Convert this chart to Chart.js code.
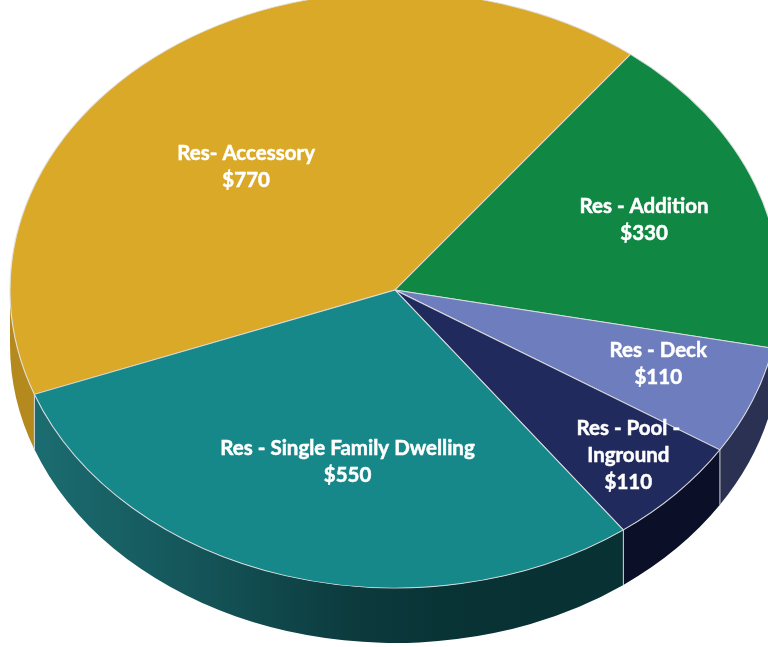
<!DOCTYPE html>
<html><head><meta charset="utf-8">
<script src="https://cdn.jsdelivr.net/npm/chart.js@4"></script>
<style>html,body{margin:0;padding:0;background:#fff;overflow:hidden}canvas{display:block}</style>
</head><body>
<canvas id="c" width="768" height="647"></canvas>
<script>
// ---- data ----
const categories = ['Res- Accessory', 'Res - Addition', 'Res - Deck', 'Res - Pool - Inground', 'Res - Single Family Dwelling'];
const values = [770, 330, 110, 110, 550];
const labelLines = [['Res- Accessory'], ['Res - Addition'], ['Res - Deck'], ['Res - Pool -', 'Inground'], ['Res - Single Family Dwelling']];
const valueLabels = values.map(v => '$' + v);

// ---- styles / layout ----
const topColors = ['#DBA928', '#118744', '#6E7DBD', '#212A5C', '#17888A'];
const sideColors = ['#B48A1F', '#0B5C2E', '#2B3152', '#0B0F27', 'gradient'];
const labelLayout = [{r: 0.565, da: -6.8}, {r: 0.688, da: 0.6}, {r: 0.727, da: -2.0}, {r: 0.821, da: -0.6}, {r: 0.59, da: -4.5}];
const CX = 395, CY = 290, RX = 385, RY = 298, DEPTH = 55, ROT = 249.5;
const EDGE = 'rgba(225,225,225,0.9)';

const TWO_PI = Math.PI * 2;

const pie3d = {
  id: 'pie3d',
  beforeDatasetsDraw(chart) {
    const ctx = chart.ctx;
    const arcs = chart.getDatasetMeta(0).data;
    ctx.save();
    arcs.forEach((arc, i) => {
      const s = arc.startAngle, e = arc.endAngle;
      for (let k = -1; k <= 2; k++) {
        const lo = Math.max(s, k * TWO_PI), hi = Math.min(e, k * TWO_PI + Math.PI);
        if (hi <= lo) continue;
        ctx.beginPath();
        ctx.ellipse(CX, CY, RX, RY, 0, lo, hi, false);
        ctx.ellipse(CX, CY + DEPTH, RX, RY, 0, hi, lo, true);
        ctx.closePath();
        if (sideColors[i] === 'gradient') {
          const g = ctx.createLinearGradient(CX - RX, 0, CX + RX, 0);
          g.addColorStop(0, '#1C7074');
          g.addColorStop(0.25, '#145458');
          g.addColorStop(0.45, '#0C3A3D');
          g.addColorStop(0.6, '#083234');
          g.addColorStop(1, '#073031');
          ctx.fillStyle = g;
        } else {
          ctx.fillStyle = sideColors[i];
        }
        ctx.fill();
      }
    });
    // vertical edges at slice boundaries on the front
    ctx.strokeStyle = EDGE;
    ctx.lineWidth = 1;
    arcs.forEach(arc => {
      const t = arc.startAngle;
      if (Math.sin(t) > 0) {
        const x = CX + RX * Math.cos(t), y = CY + RY * Math.sin(t);
        ctx.beginPath();
        ctx.moveTo(x, y);
        ctx.lineTo(x, y + DEPTH);
        ctx.stroke();
      }
    });
    ctx.restore();
    // transform so the library's circular pie becomes the tilted top face
    const a = arcs[0];
    ctx.save();
    ctx.translate(CX, CY);
    ctx.scale(RX / a.outerRadius, RY / a.outerRadius);
    ctx.translate(-a.x, -a.y);
  },
  afterDatasetsDraw(chart) {
    const ctx = chart.ctx;
    ctx.restore();
    const arcs = chart.getDatasetMeta(0).data;
    ctx.save();
    ctx.fillStyle = '#FFFFFF';
    ctx.strokeStyle = '#FFFFFF';
    ctx.lineWidth = 0.5;
    ctx.font = 'bold 20.5px Lato';
    ctx.textAlign = 'center';
    ctx.textBaseline = 'middle';
    const lh = 27;
    arcs.forEach((arc, i) => {
      const L = labelLayout[i];
      const mid = (arc.startAngle + arc.endAngle) / 2 + L.da * Math.PI / 180;
      const x = CX + RX * L.r * Math.cos(mid);
      const y = CY + RY * L.r * Math.sin(mid);
      const lines = labelLines[i].concat([valueLabels[i]]);
      const y0 = y - (lines.length - 1) * lh / 2;
      lines.forEach((t, j) => { ctx.fillText(t, x, y0 + j * lh); ctx.strokeText(t, x, y0 + j * lh); });
    });
    ctx.restore();
  }
};

new Chart(document.getElementById('c'), {
  type: 'pie',
  data: {
    labels: categories,
    datasets: [{
      data: values,
      backgroundColor: topColors,
      borderColor: EDGE,
      borderWidth: 1,
      hoverOffset: 0,
      offset: 0,
      clip: false
    }]
  },
  options: {
    responsive: false,
    animation: false,
    rotation: ROT,
    devicePixelRatio: 1,
    layout: {padding: 0},
    events: [],
    plugins: {legend: {display: false}, tooltip: {enabled: false}}
  },
  plugins: [pie3d]
});
</script>
</body></html>
